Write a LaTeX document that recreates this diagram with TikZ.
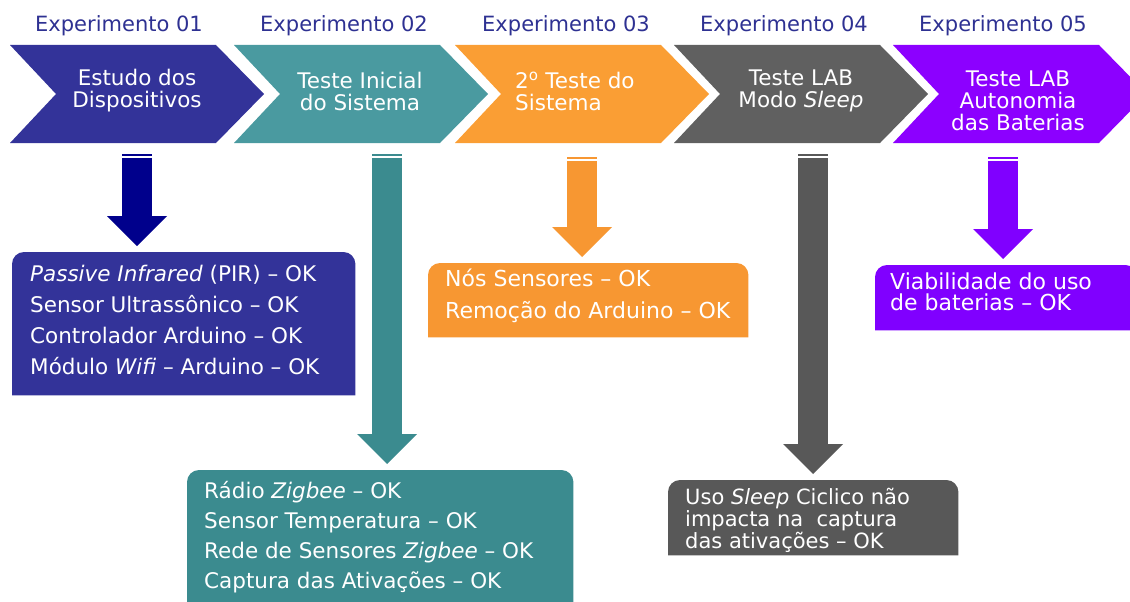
\documentclass[tikz,border=0pt]{standalone}
\usepackage{fontspec}
\setmainfont{DejaVu Sans}
\usetikzlibrary{arrows.meta}

\definecolor{headblue}{RGB}{46,49,146}
\definecolor{chevA}{RGB}{51,51,153}
\definecolor{arrowA}{RGB}{0,0,140}
\definecolor{boxA}{RGB}{51,51,153}
\definecolor{chevB}{RGB}{74,154,160}
\definecolor{boxB}{RGB}{59,139,143}
\definecolor{chevC}{RGB}{250,158,52}
\definecolor{boxC}{RGB}{247,151,50}
\definecolor{chevD}{RGB}{96,96,96}
\definecolor{boxD}{RGB}{88,88,88}
\definecolor{chevE}{RGB}{140,0,255}
\definecolor{boxE}{RGB}{128,0,255}

\begin{document}
\begin{tikzpicture}[x=1pt,y=-1pt]
	\tikzstyle{head_style} = [text=headblue, font=\fontsize{21}{25}\selectfont, inner sep=0pt]
	\tikzstyle{chev_style} = [text=white, font=\fontsize{21.5}{22}\selectfont, align=center, inner sep=0pt]
	\tikzstyle{box_style} = [anchor=north west, inner sep=0pt]
	\tikzstyle{list_style} = [text=white, anchor=west, align=left, inner sep=0pt]
	\tikzstyle{arrow_style} = [line width=30pt, -{Triangle[width=60pt,length=30pt,line width=0pt]}, shorten >=6pt]
	\useasboundingbox (0,0) rectangle (1130,602);
	% etapas
	\foreach \x/\col in {10/chevA, 234/chevB, 455/chevC, 674/chevD, 893/chevE}
		\fill[\col] (\x,45) -- ++(206,0) -- ++(48,49) -- ++(-48,49) -- ++(-206,0) -- ++(46,-49) -- cycle;
	\node[head_style] (h1) at (119,26) {Experimento 01};
	\node[head_style] (h2) at (344,26) {Experimento 02};
	\node[head_style] (h3) at (566,26) {Experimento 03};
	\node[head_style] (h4) at (784,26) {Experimento 04};
	\node[head_style] (h5) at (1003,26) {Experimento 05};
	\node[chev_style] (c1) at (137,91) {Estudo dos\\Dispositivos};
	\node[chev_style] (c2) at (360,91) {Teste Inicial\\do Sistema};
	\node[chev_style, align=left, anchor=west] (c3) at (515,91) {2\textsuperscript{o} Teste do\\Sistema};
	\node[chev_style] (c4) at (801,91) {Teste LAB\\Modo \textit{Sleep}};
	\node[chev_style] (c5) at (1018,101) {Teste LAB\\Autonomia\\das Baterias};
	% resultados
	\node[box_style, minimum width=343pt, minimum height=143pt] (b1) at (12,252) {};
	\node[box_style, minimum width=386pt, minimum height=140pt] (b2) at (187,470) {};
	\node[box_style, minimum width=320pt, minimum height=74pt] (b3) at (428,263) {};
	\node[box_style, minimum width=290pt, minimum height=75pt] (b4) at (668,480) {};
	\node[box_style, minimum width=262pt, minimum height=65pt] (b5) at (875,265) {};
	\foreach \n/\col in {b1/boxA, b2/boxB, b3/boxC, b4/boxD, b5/boxE}
		\fill[\col] (\n.south west) [rounded corners=12pt] -- (\n.north west) -- (\n.north east) [sharp corners] -- (\n.south east) -- cycle;
	\node[list_style, font=\fontsize{21.5}{31}\selectfont] (t1) at (30,320) {\textit{Passive Infrared} (PIR) – OK\\Sensor Ultrassônico – OK\\Controlador Arduino – OK\\Módulo \textit{Wifi} – Arduino – OK};
	\node[list_style, font=\fontsize{21.5}{30}\selectfont] (t2) at (204,537) {Rádio \textit{Zigbee} – OK\\Sensor Temperatura – OK\\Rede de Sensores \textit{Zigbee} – OK\\Captura das Ativações – OK};
	\node[list_style, font=\fontsize{22}{32}\selectfont] (t3) at (445,296) {Nós Sensores – OK\\Remoção do Arduino – OK};
	\node[list_style, font=\fontsize{21}{22}\selectfont] (t4) at (685,520) {Uso \textit{Sleep} Ciclico não\\impacta na\ \ captura\\das ativações – OK};
	\node[list_style, font=\fontsize{22}{21}\selectfont] (t5) at (890,292) {Viabilidade do uso\\de baterias – OK};
	% setas
	\coordinate (a1) at (137,154);
	\coordinate (a2) at (387,154);
	\coordinate (a3) at (582,157);
	\coordinate (a4) at (813,154);
	\coordinate (a5) at (1003,157);
	\draw[arrow_style, arrowA] (a1) -- (a1 |- b1.north);
	\draw[arrow_style, boxB] (a2) -- (a2 |- b2.north);
	\draw[arrow_style, boxC] (a3) -- (a3 |- b3.north);
	\draw[arrow_style, boxD] (a4) -- (a4 |- b4.north);
	\draw[arrow_style, boxE] (a5) -- (a5 |- b5.north);
	\foreach \a in {a1,a2,a3,a4,a5}
		\draw[white, line width=1.2pt] ([xshift=-15pt,yshift=-3pt]\a) -- ([xshift=15pt,yshift=-3pt]\a);
\end{tikzpicture}
\end{document}
